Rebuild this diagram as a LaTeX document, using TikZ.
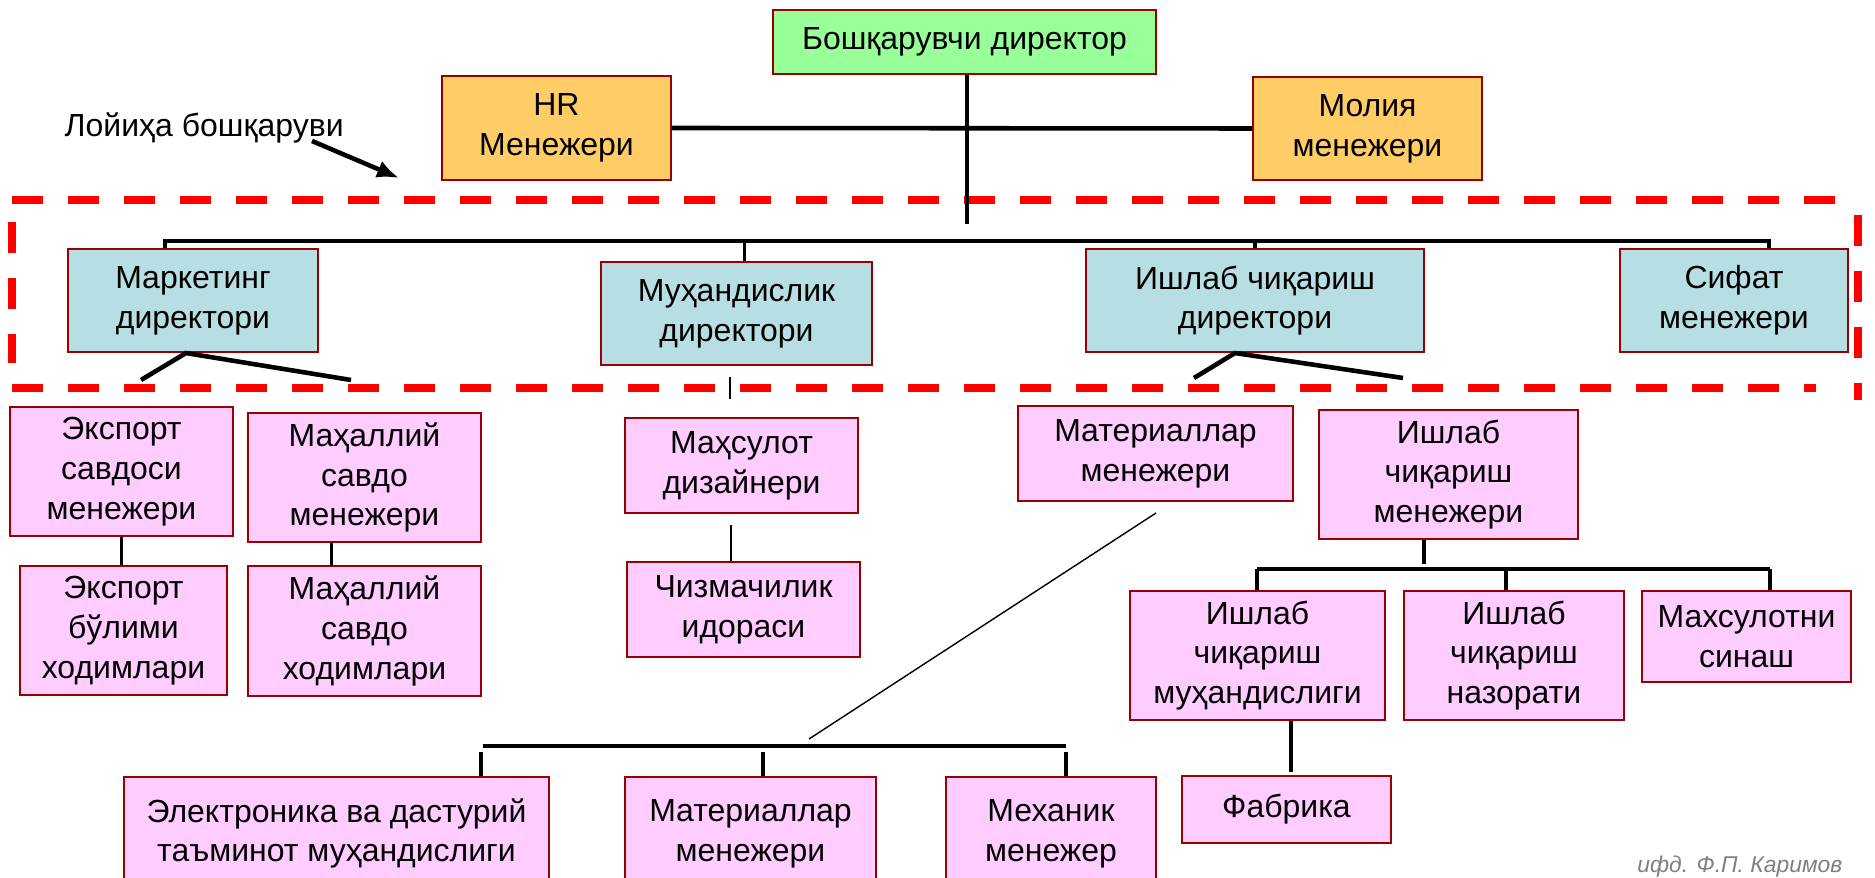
\documentclass[tikz,border=0pt]{standalone}
\usepackage{fontspec}
\setmainfont{Liberation Sans}
\usetikzlibrary{arrows.meta}
\definecolor{chiefgreen}{RGB}{153,255,153}
\definecolor{staffamber}{RGB}{255,204,102}
\definecolor{dirteal}{RGB}{183,222,226}
\definecolor{unitpink}{RGB}{255,204,255}
\definecolor{boxred}{RGB}{153,0,0}
\tikzset{%
    >={Latex[length=3mm]},
    box/.style={draw=boxred, line width=0.6pt, inner sep=0pt, align=center,
      font=\fontsize{9.1}{11.3}\selectfont},
    wh/.style 2 args={minimum width=#1cm, minimum height=#2cm},
    chiefbox/.style={box, fill=chiefgreen},
    staffbox/.style={box, fill=staffamber},
    dirbox/.style={box, fill=dirteal},
    unitbox/.style={box, fill=unitpink},
    busline/.style={line width=1.3pt},
    linkline/.style={line width=0.95pt},
    thinline/.style={line width=0.4pt},
    zoneline/.style={draw=red, line width=2pt, dash pattern=on 0.31cm off 0.25cm}
}
\begin{document}
\begin{tikzpicture}[>={Latex[length=2.2mm,width=1.8mm]}]
  \clip (0,0) rectangle (18.75,-8.78);

  \node[chiefbox, wh={3.83}{0.64}] (gd) at (9.645,-0.42) {Бошқарувчи директор};
  \node[staffbox, wh={2.29}{1.04}] (hr) at (5.565,-1.28) {HR\\Менежери};
  \node[staffbox, wh={2.29}{1.03}] (mol) at (13.675,-1.285) {Молия\\менежери};

  \node[dirbox, wh={2.50}{1.03}] (mkt) at (1.93,-3.005) {Маркетинг\\директори};
  \node[dirbox, wh={2.71}{1.03}] (muh) at (7.365,-3.135) {Муҳандислик\\директори};
  \node[dirbox, wh={3.38}{1.03}] (ichd) at (12.55,-3.005) {Ишлаб чиқариш\\директори};
  \node[dirbox, wh={2.28}{1.03}] (sif) at (17.34,-3.005) {Сифат\\менежери};

  \node[unitbox, wh={2.23}{1.29}] (esm) at (1.215,-4.715) {Экспорт\\савдоси\\менежери};
  \node[unitbox, wh={2.33}{1.29}] (msm) at (3.645,-4.775) {Маҳаллий\\савдо\\менежери};
  \node[unitbox, wh={2.07}{1.29}] (ebx) at (1.235,-6.305) {Экспорт\\бўлими\\ходимлари};
  \node[unitbox, wh={2.33}{1.30}] (msx) at (3.645,-6.31) {Маҳаллий\\савдо\\ходимлари};
  \node[unitbox, wh={2.33}{0.95}] (mdz) at (7.415,-4.655) {Маҳсулот\\дизайнери};
  \node[unitbox, wh={2.33}{0.95}] (chz) at (7.435,-6.095) {Чизмачилик\\идораси};
  \node[unitbox, wh={2.75}{0.95}] (mat) at (11.555,-4.535) {Материаллар\\менежери};
  \node[unitbox, wh={2.59}{1.29}] (icm) at (14.485,-4.745) {Ишлаб\\чиқариш\\менежери};
  \node[unitbox, wh={2.55}{1.29}] (icmh) at (12.575,-6.555) {Ишлаб\\чиқариш\\муҳандислиги};
  \node[unitbox, wh={2.20}{1.29}] (icn) at (15.14,-6.555) {Ишлаб\\чиқариш\\назорати};
  \node[unitbox, wh={2.09}{0.91}] (sin) at (17.465,-6.365) {Махсулотни\\синаш};
  \node[unitbox, wh={2.09}{0.67}] (fab) at (12.865,-8.095) {Фабрика};
  \node[unitbox, wh={4.25}{1.13}] (ele) at (3.365,-8.335) {Электроника ва дастурий\\таъминот муҳандислиги};
  \node[unitbox, wh={2.51}{1.13}] (matb) at (7.505,-8.335) {Материаллар\\менежери};
  \node[unitbox, wh={2.10}{1.13}] (mex) at (10.51,-8.335) {Механик\\менежер};

  \node[anchor=west, inner sep=0pt, font=\fontsize{9.1}{11.3}\selectfont] (pm) at (0.64,-1.28) {Лойиҳа бошқаруви};
  \node[anchor=east, inner sep=0pt, text=gray, font=\fontsize{6.5}{8}\selectfont\itshape] (sig) at (18.43,-8.67) {ифд. Ф.П. Каримов};

  \coordinate (pmtail) at (3.12,-1.41);
  \coordinate (pmtip) at (3.99,-1.78);
  \draw[->, line width=1.3pt] (pmtail) -- (pmtip);

  \draw[zoneline] (0.12,-2.00) -- (18.37,-2.00);
  \draw[zoneline] (18.58,-2.15) -- (18.58,-4.00);
  \draw[zoneline] (0.12,-3.88) -- (18.16,-3.88);
  \draw[zoneline] (0.12,-2.22) -- (0.12,-3.63);

  \coordinate (gdend) at (9.67,-2.24);
  \draw[linkline] (gd.south -| gdend) -- (gdend);
  \draw[busline] (hr.east) -- (mol.west);

  \coordinate (dl) at (1.65,-2.41);
  \coordinate (dr) at (17.69,-2.41);
  \draw[line width=0.95pt] (mkt.north -| dl) -- (dl) -- (dr) -- (sif.north -| dr);
  \draw[line width=0.95pt] ([xshift=0.08cm]muh.north) -- ([xshift=0.08cm]muh.north |- dl);
  \draw[line width=0.95pt] (ichd.north) -- (ichd.north |- dl);

  \coordinate (mktl) at (1.41,-3.80);
  \coordinate (mktr) at (3.51,-3.80);
  \draw[busline] (mktl) -- ([xshift=-0.07cm]mkt.south) -- (mktr);
  \coordinate (ichl) at (11.94,-3.78);
  \coordinate (ichr) at (14.03,-3.78);
  \draw[busline] (ichl) -- ([xshift=-0.2cm]ichd.south) -- (ichr);
  \coordinate (muhtop) at (7.30,-3.77);
  \coordinate (muhbot) at (7.30,-3.99);
  \draw[thinline] (muhtop) -- (muhbot);

  \draw[linkline] (esm.south) -- (esm.south |- ebx.north);
  \draw[linkline] ([xshift=-0.33cm]msm.south) -- ([xshift=-0.33cm]msx.north);
  \coordinate (mdzend) at (7.31,-5.25);
  \draw[thinline] (mdzend) -- (mdzend |- chz.north);

  \coordinate (mattop) at (11.56,-5.13);
  \coordinate (matbot) at (8.09,-7.39);
  \draw[thinline] (mattop) -- (matbot);

  \coordinate (bl) at (4.83,-7.46);
  \coordinate (br) at (10.66,-7.46);
  \draw[busline] (bl) -- (br);
  \coordinate (d1) at (4.81,-7.52);
  \coordinate (d2) at (7.63,-7.52);
  \coordinate (d3) at (10.66,-7.52);
  \draw[linkline] (d1) -- (d1 |- ele.north);
  \draw[linkline] (d2) -- (d2 |- matb.north);
  \draw[linkline] (d3) -- (d3 |- mex.north);

  \coordinate (icmend) at (14.24,-5.64);
  \draw[linkline] (icmend |- icm.south) -- (icmend);
  \coordinate (il) at (12.57,-5.69);
  \coordinate (im) at (15.06,-5.69);
  \coordinate (ir) at (17.70,-5.69);
  \draw[busline] (il) -- (ir);
  \draw[linkline] (il) -- (il |- icmh.north);
  \draw[linkline] (im) -- (im |- icn.north);
  \draw[linkline] (ir) -- (ir |- sin.north);
  \coordinate (fabend) at (12.91,-7.72);
  \draw[linkline] (fabend |- icmh.south) -- (fabend);
\end{tikzpicture}
\end{document}
